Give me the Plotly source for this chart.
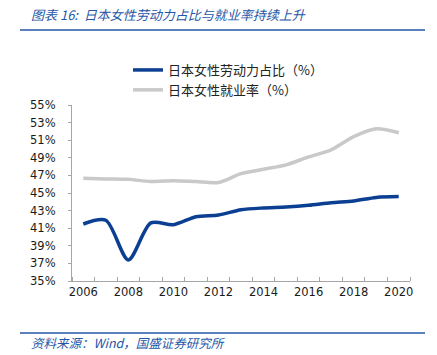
import plotly.graph_objects as go

years = list(range(2006, 2021))
labor_share = [41.48, 41.9, 37.4, 41.6, 41.4, 42.3, 42.5, 43.1, 43.3, 43.4, 43.6, 43.9, 44.1, 44.5, 44.6]
employment_rate = [46.67, 46.6, 46.55, 46.3, 46.4, 46.3, 46.2, 47.2, 47.7, 48.2, 49.1, 49.9, 51.4, 52.3, 51.85]
x_tick_labels = [str(y) for y in range(2006, 2021, 2)]
y_ticks = list(range(35, 56, 2))

name_labor = "日本女性劳动力占比（%）"
name_emp = "日本女性就业率（%）"

BLUE = "#0B3F92"
GRAY = "#C9C9C9"
TITLE_BLUE = "#2557A7"

L, R, T, B = 72, 410, 105, 281
W = R - L
H = B - T

def px_x(x):
    return (x - L) / W

def px_y(y):
    return (B - y) / H

fig = go.Figure()
fig.add_trace(go.Scatter(x=years, y=labor_share, mode="lines", name=name_labor,
                         line=dict(color=BLUE, width=3.5, shape="spline", smoothing=0.8)))
fig.add_trace(go.Scatter(x=years, y=employment_rate, mode="lines", name=name_emp,
                         line=dict(color=GRAY, width=3.5, shape="spline", smoothing=0.8)))

tick_font = dict(family="DejaVu Sans", size=11.5, color="#1a1a1a")

fig.update_layout(
    width=437, height=355,
    margin=dict(l=L, r=437 - R, t=T, b=355 - B, autoexpand=False),
    paper_bgcolor="white", plot_bgcolor="white",
    showlegend=True,
    legend=dict(x=px_x(128), y=px_y(55), xanchor="left", yanchor="top",
                font=dict(family="Noto Sans CJK SC", size=13, color="#222"),
                bgcolor="rgba(0,0,0,0)", tracegroupgap=0),
    xaxis=dict(range=[2005.5, 2020.5], tickmode="array",
               tickvals=[int(v) for v in x_tick_labels], ticktext=x_tick_labels,
               ticks="", showgrid=False, zeroline=False, automargin=False,
               showline=True, linecolor="#A6A6A6", linewidth=1.2,
               tickfont=tick_font,
               minor=dict(tickmode="array", tickvals=[2005.5 + i for i in range(16)],
                          ticks="inside", ticklen=4, tickcolor="#A6A6A6", tickwidth=1, showgrid=False)),
    yaxis=dict(range=[35, 55], tickmode="array", tickvals=y_ticks,
               ticktext=[f"{v}%" for v in y_ticks], automargin=False,
               ticks="outside", ticklen=3, tickcolor="#A6A6A6",
               ticklabelstandoff=10,
               showgrid=False, zeroline=False,
               showline=True, linecolor="#A6A6A6", linewidth=1.2,
               tickfont=tick_font),
)

# title and source
fig.add_annotation(xref="paper", yref="paper", x=px_x(29), y=px_y(15),
                   xanchor="left", yanchor="middle", showarrow=False,
                   text="<i>图表 16:  日本女性劳动力占比与就业率持续上升</i>",
                   font=dict(family="Noto Sans CJK SC", size=13, color=TITLE_BLUE))
fig.add_annotation(xref="paper", yref="paper", x=px_x(29), y=px_y(342),
                   xanchor="left", yanchor="middle", showarrow=False,
                   text="<i>资料来源：Wind，国盛证券研究所</i>",
                   font=dict(family="Noto Sans CJK SC", size=12.5, color=TITLE_BLUE))
fig.add_shape(type="line", xref="paper", yref="paper",
              x0=px_x(20), x1=px_x(425), y0=px_y(30), y1=px_y(30),
              line=dict(color=TITLE_BLUE, width=1.5))
fig.add_shape(type="line", xref="paper", yref="paper",
              x0=px_x(20), x1=px_x(425), y0=px_y(333), y1=px_y(333),
              line=dict(color=TITLE_BLUE, width=1.5))

fig.write_html("out.html", config={"displayModeBar": False},
               post_script="document.body.style.margin='0';")
